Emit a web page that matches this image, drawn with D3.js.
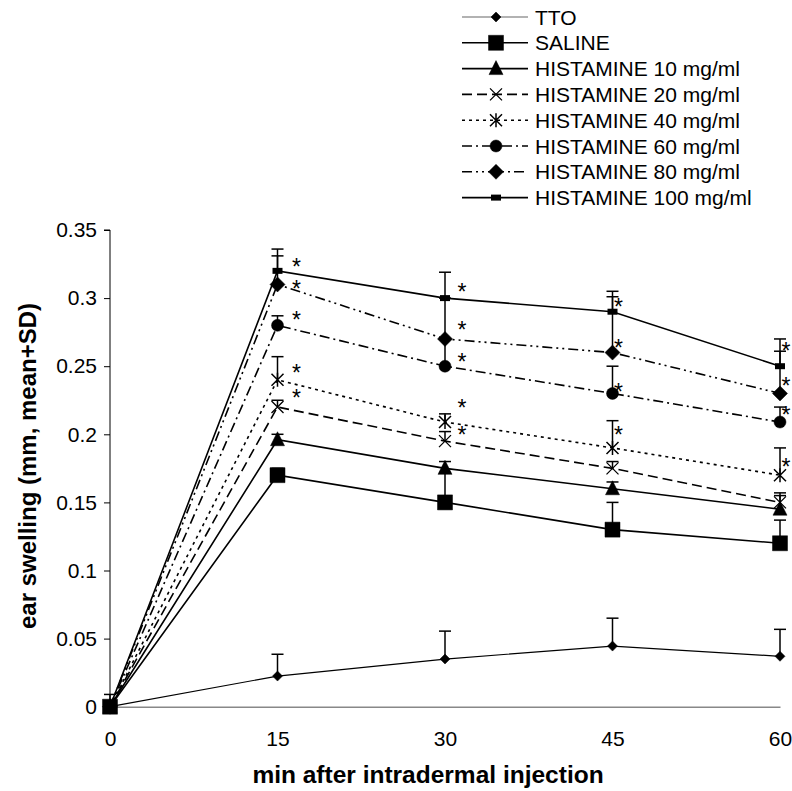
<!DOCTYPE html>
<html>
<head>
<meta charset="utf-8">
<script src="https://cdn.jsdelivr.net/npm/d3@7"></script>
<style>
  body { margin: 0; background: #fff; }
  text { font-family: "Liberation Sans", Arial, sans-serif; }
</style>
</head>
<body>
<svg id="chart"></svg>
<script>
const width = 792;
const height = 791;

// data
const times = [0, 15, 30, 45, 60];
const seriesNames = ["TTO", "SALINE", "HISTAMINE 10 mg/ml", "HISTAMINE 20 mg/ml",
    "HISTAMINE 40 mg/ml", "HISTAMINE 60 mg/ml", "HISTAMINE 80 mg/ml", "HISTAMINE 100 mg/ml"];
const means = [
    [0, 0.0225, 0.035, 0.0445, 0.037],
    [0, 0.17, 0.15, 0.13, 0.12],
    [0, 0.196, 0.175, 0.16, 0.145],
    [0, 0.22, 0.195, 0.175, 0.15],
    [0, 0.24, 0.209, 0.19, 0.17],
    [0, 0.28, 0.25, 0.23, 0.209],
    [0, 0.31, 0.27, 0.26, 0.23],
    [0, 0.32, 0.30, 0.29, 0.25]
];
const sdTops = [
    [0.009, 0.0385, 0.0555, 0.065, 0.0568],
    [0, 0.175, 0.172, 0.15, 0.137],
    [0, 0.2, 0.18, 0.165, 0.157],
    [0, 0.225, 0.202, 0.18, 0.155],
    [0, 0.257, 0.215, 0.21, 0.19],
    [0, 0.287, 0.27, 0.25, 0.22],
    [0, 0.331, 0.30, 0.301, 0.261],
    [0, 0.336, 0.319, 0.305, 0.27]
];
// significance stars: [time, value where the star sits]
const stars = [
    [15, 0.3265], [15, 0.310], [15, 0.2875], [15, 0.2487], [15, 0.230],
    [30, 0.308], [30, 0.280], [30, 0.257], [30, 0.223], [30, 0.203],
    [45, 0.297], [45, 0.267], [45, 0.235], [45, 0.203],
    [60, 0.265], [60, 0.239], [60, 0.218], [60, 0.180]
];
const starShift = { 15: 19, 30: 17, 45: 6, 60: 6 };
const yTicks = [0, 0.05, 0.1, 0.15, 0.2, 0.25, 0.3, 0.35];
const yTickLabels = ["0", "0.05", "0.1", "0.15", "0.2", "0.25", "0.3", "0.35"];

const markers = ["diamondS", "square", "triangle", "x", "asterisk", "circle", "diamond", "bar"];
const dashes = [null, null, null, "10,5", "3,4", "10,4,2,4", "10,4,2,4,2,4", null];

const svg = d3.select("#chart").attr("width", width).attr("height", height);

const x = d3.scaleLinear().domain([0, 60]).range([110, 780]);
const y = d3.scaleLinear().domain([0, 0.35]).range([706.7, 230]);

// axes
const yAxis = svg.append("g")
    .attr("transform", "translate(110,0)")
    .call(d3.axisLeft(y).tickValues(yTicks).tickSize(6).tickPadding(7)
        .tickFormat((d, i) => yTickLabels[i]));
yAxis.select(".domain").attr("stroke", "#000").attr("d", `M-6,${y(0.35)}H0V${y(0)}`);
yAxis.selectAll("text").style("font-size", "21px").style("font-family", "Liberation Sans, Arial, sans-serif");

const xAxis = svg.append("g")
    .attr("transform", `translate(0,${y(0)})`)
    .call(d3.axisBottom(x).tickValues(times).tickSize(0).tickPadding(24));
xAxis.select(".domain").attr("stroke", "#888").attr("stroke-width", 1.5);
xAxis.selectAll("text").style("font-size", "21px").style("font-family", "Liberation Sans, Arial, sans-serif");

svg.append("text")
    .attr("x", 428).attr("y", 783)
    .attr("text-anchor", "middle")
    .style("font-size", "24.5px").style("font-weight", "bold")
    .text("min after intradermal injection");

svg.append("text")
    .attr("transform", "rotate(-90)")
    .attr("x", -466).attr("y", 36)
    .attr("text-anchor", "middle")
    .style("font-size", "24px").style("font-weight", "bold")
    .text("ear swelling (mm, mean+SD)");

function drawMarker(g, type, cx, cy) {
    const s = g.append("path").attr("fill", "#000").attr("stroke", "#000");
    if (type === "diamondS") {
        s.attr("d", `M${cx},${cy - 5}L${cx + 5},${cy}L${cx},${cy + 5}L${cx - 5},${cy}Z`).attr("stroke-width", 0.5);
    } else if (type === "diamond") {
        s.attr("d", `M${cx},${cy - 7.5}L${cx + 7.5},${cy}L${cx},${cy + 7.5}L${cx - 7.5},${cy}Z`).attr("stroke-width", 0.5);
    } else if (type === "square") {
        s.attr("d", `M${cx - 7.5},${cy - 7.5}h15v15h-15Z`).attr("stroke-width", 0.5);
    } else if (type === "triangle") {
        s.attr("d", `M${cx},${cy - 8}L${cx + 7},${cy + 6}L${cx - 7},${cy + 6}Z`).attr("stroke-width", 0.5);
    } else if (type === "circle") {
        s.attr("d", d3.arc()({ innerRadius: 0, outerRadius: 6, startAngle: 0, endAngle: 2 * Math.PI }))
            .attr("transform", `translate(${cx},${cy})`).attr("stroke-width", 0.5);
    } else if (type === "bar") {
        s.attr("d", `M${cx - 5},${cy - 3}h10v6h-10Z`).attr("stroke-width", 0);
    } else if (type === "x") {
        s.attr("fill", "none").attr("stroke-width", 1.3)
            .attr("d", `M${cx - 6},${cy - 6}L${cx + 6},${cy + 6}M${cx - 6},${cy + 6}L${cx + 6},${cy - 6}`);
    } else if (type === "asterisk") {
        s.attr("fill", "none").attr("stroke-width", 1.5)
            .attr("d", `M${cx - 6},${cy - 6}L${cx + 6},${cy + 6}M${cx - 6},${cy + 6}L${cx + 6},${cy - 6}M${cx},${cy - 7}V${cy + 7}`);
    }
}

const line = d3.line().x(d => x(d[0])).y(d => y(d[1]));
const plot = svg.append("g");

// series lines
seriesNames.forEach((name, i) => {
    plot.append("path")
        .datum(times.map((t, j) => [t, means[i][j]]))
        .attr("d", line)
        .attr("fill", "none")
        .attr("stroke", "#000")
        .attr("stroke-width", i === 0 ? 1.2 : 1.6)
        .attr("stroke-dasharray", dashes[i]);
});

// error bars (mean + SD)
seriesNames.forEach((name, i) => {
    times.forEach((t, j) => {
        if (sdTops[i][j] <= means[i][j]) return;
        const cx = x(t);
        plot.append("line")
            .attr("x1", cx).attr("x2", cx)
            .attr("y1", y(means[i][j])).attr("y2", y(sdTops[i][j]))
            .attr("stroke", "#000").attr("stroke-width", 1.5);
        plot.append("line")
            .attr("x1", cx - 6).attr("x2", cx + 6)
            .attr("y1", y(sdTops[i][j])).attr("y2", y(sdTops[i][j]))
            .attr("stroke", "#000").attr("stroke-width", 1.5);
    });
});

// markers
seriesNames.forEach((name, i) => {
    times.forEach((t, j) => drawMarker(plot, markers[i], x(t), y(means[i][j])));
});

// stars
stars.forEach(d => {
    svg.append("text")
        .attr("x", x(d[0]) + starShift[d[0]])
        .attr("y", y(d[1]) + 13)
        .attr("text-anchor", "middle")
        .style("font-size", "23px")
        .text("*");
});

// legend
const legend = svg.append("g");
seriesNames.forEach((name, i) => {
    const ly = 17 + i * 25.8;
    legend.append("line")
        .attr("x1", 462).attr("x2", 528)
        .attr("y1", ly).attr("y2", ly)
        .attr("stroke", i === 0 ? "#666" : "#000")
        .attr("stroke-width", i === 0 ? 1.2 : 1.6)
        .attr("stroke-dasharray", dashes[i]);
    drawMarker(legend, markers[i], 496, ly);
    legend.append("text")
        .attr("x", 535).attr("y", ly + 7.5)
        .style("font-size", "21px")
        .text(name);
});
</script>
</body>
</html>
